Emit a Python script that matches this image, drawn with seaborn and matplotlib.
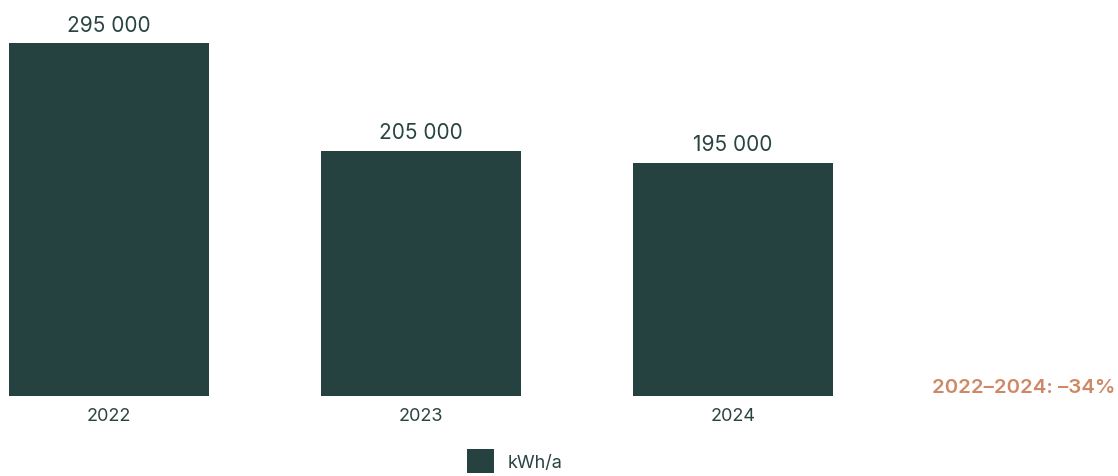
import matplotlib
matplotlib.use("Agg")
import matplotlib.pyplot as plt
import seaborn as sns
import pandas as pd
from matplotlib.patches import Patch

years = ["2022", "2023", "2024"]
values = [295000, 205000, 195000]
series_label = "kWh/a"
note = "2022–2024: –34%"

BAR = "#264240"
TEXT = "#2a4442"
ORANGE = "#cf8866"

sns.set_theme(style="white")
plt.rcParams["font.family"] = ["Inter", "DejaVu Sans"]

df = pd.DataFrame({"year": years, "value": values, "series": series_label})

W, H = 1118, 477
fig = plt.figure(figsize=(W / 100, H / 100), dpi=100)
ax = fig.add_axes([0, (H - 397) / H, 1, 397 / H])

sns.barplot(data=df, x="year", y="value", hue="series", palette=[BAR],
            width=200 / 312, ax=ax, legend=False, saturation=1, linewidth=0)

ax.set_xlim(-109 / 312, (W - 109) / 312)
ax.set_ylim(0, 397 / 353 * values[0])
for s in ax.spines.values():
    s.set_visible(False)
ax.set_yticks([])
ax.set_xlabel("")
ax.set_ylabel("")
ax.tick_params(axis="x", length=0, pad=8, labelsize=13, labelcolor=TEXT)

for c in ax.containers:
    ax.bar_label(c, labels=[f"{v:,.0f}".replace(",", " ") for v in c.datavalues],
                 padding=6, fontsize=15, color=TEXT)

ax.text(0.998, 0, note, transform=ax.get_yaxis_transform(),
        ha="right", va="bottom", fontsize=14.7, color=ORANGE, fontweight="semibold")

handles = [Patch(facecolor=BAR, edgecolor="none", label=series_label)]
fig.legend(handles=handles, loc="center", bbox_to_anchor=(515 / W, 1 - 462 / H),
           frameon=False, fontsize=13, labelcolor=TEXT, handlelength=1.5,
           handleheight=1.65, handletextpad=0.75, borderaxespad=0, borderpad=0)

fig.savefig("out.png", dpi=100)
